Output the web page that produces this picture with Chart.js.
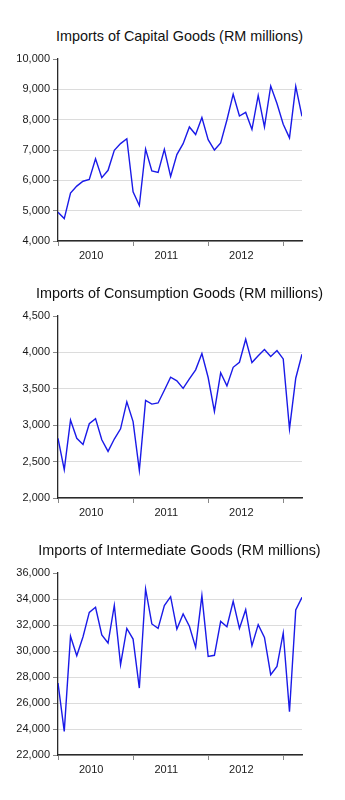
<!DOCTYPE html>
<html>
<head>
<meta charset="utf-8">
<script src="https://cdn.jsdelivr.net/npm/chart.js@4"></script>
<style>
  html, body { margin: 0; padding: 0; background: #fff; overflow: hidden; width: 345px; height: 800px; }
  .box { position: absolute; left: 0; width: 345px; height: 265px; }
  .chart-title {
    position: absolute; left: 0; top: 27px; width: 345px; padding-left: 14px; box-sizing: border-box;
    text-align: center; line-height: 18px; white-space: nowrap;
    font-family: 'Liberation Sans', Arial, sans-serif; font-size: 14.4px; color: #111;
  }
  canvas { position: absolute; left: 0; top: 0; }
</style>
</head>
<body>
<div class="box" style="top:0px">
  <div class="chart-title">Imports of Capital Goods (RM millions)</div>
  <canvas id="capital-canvas" width="345" height="265"></canvas>
</div>
<div class="box" style="top:257px">
  <div class="chart-title">Imports of Consumption Goods (RM millions)</div>
  <canvas id="consumption-canvas" width="345" height="265"></canvas>
</div>
<div class="box" style="top:514px">
  <div class="chart-title">Imports of Intermediate Goods (RM millions)</div>
  <canvas id="intermediate-canvas" width="345" height="265"></canvas>
</div>
<script>
// monthly, Jan 2010 .. Apr 2013
const yearLabels = ['2010', '2011', '2012'];

const capitalGoods = [
  4950, 4740, 5580, 5810, 5970, 6030, 6710, 6090, 6330, 6990, 7210, 7370,
  5620, 5170, 7030, 6310, 6260, 7020, 6130, 6850, 7210, 7760, 7510, 8070,
  7340, 7000, 7230, 7990, 8840, 8120, 8240, 7680, 8800, 7760, 9110, 8530,
  7850, 7400, 9100, 8110
];

const consumptionGoods = [
  2820, 2390, 3070, 2820, 2735, 3020, 3090, 2800, 2640, 2810, 2950, 3320,
  3050, 2380, 3340, 3290, 3305, 3480, 3660, 3610, 3505, 3635, 3760, 3985,
  3655, 3190, 3720, 3540, 3795, 3865, 4180, 3860, 3955, 4040, 3945, 4025,
  3910, 2950, 3645, 3975
];

const intermediateGoods = [
  27540, 23820, 31130, 29640, 31100, 32970, 33360, 31230, 30615, 33510, 28950, 31740,
  30920, 27150, 34770, 32080, 31740, 33490, 34180, 31690, 32850, 31900, 30280, 34260,
  29590, 29670, 32280, 31870, 33820, 31740, 33180, 30410, 32025, 31050, 28180, 28820,
  31385, 25330, 33150, 34130
];

function drawImportsChart(canvasId, values, yMin, yMax, yStep) {
  let points = values.map((v, i) => ({ x: i, y: v }));
  return new Chart(document.getElementById(canvasId), {
    type: 'line',
    data: {
      datasets: [{
        data: points,
        borderColor: '#1a1ae8',
        borderWidth: 1.4,
        pointRadius: 0,
        tension: 0,
        fill: false
      }]
    },
    options: {
      responsive: false,
      animation: false,
      devicePixelRatio: 1,
      layout: { padding: { top: 59, left: 0, right: 43, bottom: 0 } },
      plugins: {
        legend: { display: false },
        tooltip: { enabled: false },
        title: { display: false }
      },
      scales: {
        x: {
          type: 'linear',
          min: 0,
          max: values.length - 1,
          afterBuildTicks: function(scale) {
            let ticks = [];
            yearLabels.forEach(function(y, k) {
              ticks.push({ value: k * 12 });
              ticks.push({ value: k * 12 + 5.3 });
            });
            ticks.push({ value: yearLabels.length * 12 });
            scale.ticks = ticks;
          },
          afterFit: function(scale) { scale.height = 24; },
          ticks: {
            autoSkip: false,
            maxRotation: 0,
            padding: 3,
            color: '#1a1a1a',
            font: { family: 'Liberation Sans, Arial, sans-serif', size: 11 },
            callback: function(value) {
              let k = Math.round((value - 5.3) / 12);
              if (Math.abs(value - (k * 12 + 5.3)) < 0.01) return yearLabels[k];
              return '';
            }
          },
          grid: {
            drawOnChartArea: false,
            tickLength: 5,
            tickColor: ctx => (ctx.tick && ctx.tick.value % 12 === 0) ? '#888' : 'rgba(0,0,0,0)'
          },
          border: { color: '#2a2a2a', width: 1.6 }
        },
        y: {
          min: yMin,
          max: yMax,
          afterFit: function(scale) { scale.width = 58; },
          ticks: {
            stepSize: yStep,
            padding: 3,
            color: '#1a1a1a',
            font: { family: 'Liberation Sans, Arial, sans-serif', size: 11 },
            callback: value => value.toLocaleString('en-US')
          },
          grid: {
            tickLength: 5,
            color: ctx => (ctx.tick && ctx.tick.value === yMax) ? 'rgba(0,0,0,0)' : '#dcdcdc',
            tickColor: '#888'
          },
          border: { color: '#2a2a2a', width: 1.3 }
        }
      }
    }
  });
}

drawImportsChart('capital-canvas', capitalGoods, 4000, 10000, 1000);
drawImportsChart('consumption-canvas', consumptionGoods, 2000, 4500, 500);
drawImportsChart('intermediate-canvas', intermediateGoods, 22000, 36000, 2000);
</script>
</body>
</html>
